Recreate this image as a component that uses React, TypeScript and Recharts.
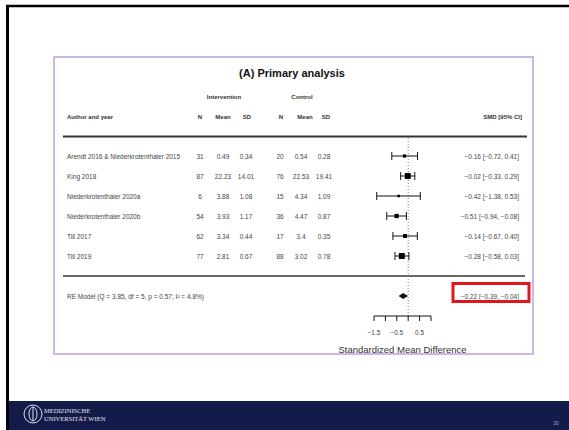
import React from 'react';
import { ComposedChart, Scatter, ErrorBar, XAxis, YAxis, ReferenceLine } from 'recharts';

// study rows (forest plot, primary analysis)
const studies = [
  'Arendt 2016 & Niederkrotenthaler 2015',
  'King 2018',
  'Niederkrotenthaler 2020a',
  'Niederkrotenthaler 2020b',
  'Till 2017',
  'Till 2019',
];
const nInt = [31, 87, 6, 54, 62, 77];
const meanInt = [0.49, 22.23, 3.88, 3.93, 3.34, 2.81];
const sdInt = [0.34, 14.01, 1.08, 1.17, 0.44, 0.67];
const nCtrl = [20, 76, 15, 36, 17, 88];
const meanCtrl = [0.54, 22.53, 4.34, 4.47, 3.4, 3.02];
const sdCtrl = [0.28, 19.41, 1.09, 0.87, 0.35, 0.78];
const smd = [-0.16, -0.02, -0.42, -0.51, -0.14, -0.28];
const ciLow = [-0.72, -0.33, -1.38, -0.94, -0.67, -0.58];
const ciHigh = [0.41, 0.29, 0.53, -0.08, 0.4, 0.03];

// pooled random-effects estimate
const reStats = 'RE Model (Q = 3.85, df = 5, p = 0.57; I\u00B2 = 4.8%)';
const reEstimate = -0.22;
const reLower = -0.39;
const reUpper = -0.04;

const xTicks = [-1.5, -1, -0.5, 0, 0.5, 1];
const xTickLabels = ['\u22121.5', '', '\u22120.5', '', '0.5', ''];
const axisTitle = 'Standardized Mean Difference';

const FONT = '"Liberation Sans", Arial, sans-serif';
const TEXT = '#444';
const COLS = [200, 223, 246, 280, 301, 324];

const minus = (s: string) => s.replace(/-/g, '\u2212');
const ciText = (e: number, l: number, h: number) =>
  minus(`${e.toFixed(2)} [${l.toFixed(2)}, ${h.toFixed(2)}]`);

const maxN = Math.max(...nInt.map((n, i) => n + nCtrl[i]));
const rows = studies.map((name, i) => ({
  name,
  x: smd[i],
  y: i,
  err: [smd[i] - ciLow[i], ciHigh[i] - smd[i]],
  box: 2 + (4 * (nInt[i] + nCtrl[i])) / maxN,
  cells: [nInt[i], meanInt[i], sdInt[i], nCtrl[i], meanCtrl[i], sdCtrl[i]].map(String),
  ci: ciText(smd[i], ciLow[i], ciHigh[i]),
}));

const RE_ROW = studies.length + 1;
const half = 0.12;
const diamond = [
  { x: reLower, y: RE_ROW },
  { x: reEstimate, y: RE_ROW - half },
  { x: reUpper, y: RE_ROW },
  { x: reEstimate, y: RE_ROW + half },
  { x: reLower, y: RE_ROW },
];
const reRow = [{ x: reEstimate, y: RE_ROW }];

function StudyRow(props: any) {
  const { cx, cy, payload } = props;
  const s = payload.box;
  return (
    <g fontFamily={FONT} fontSize={6.5} fill={TEXT}>
      <text x={67} y={cy} dominantBaseline="central">{payload.name}</text>
      {payload.cells.map((c: string, k: number) => (
        <text key={k} x={COLS[k]} y={cy} textAnchor="middle" dominantBaseline="central">{c}</text>
      ))}
      <text x={519} y={cy} textAnchor="end" dominantBaseline="central">{payload.ci}</text>
      <rect x={cx - s / 2} y={cy - s / 2} width={s} height={s} fill="#000" />
    </g>
  );
}

function RERow(props: any) {
  const { cy } = props;
  return (
    <g fontFamily={FONT} fontSize={6.5} fill={TEXT}>
      <text x={67} y={cy} dominantBaseline="central">{reStats}</text>
      <text x={519} y={cy} textAnchor="end" dominantBaseline="central">
        {ciText(reEstimate, reLower, reUpper)}
      </text>
      <rect x={453} y={cy - 12.5} width={76} height={18} fill="none" stroke="#e3151b" strokeWidth={3} />
    </g>
  );
}

function Slide() {
  const hdr = { fontFamily: FONT, fontSize: 6, fontWeight: 700, fill: '#333' } as const;
  return (
    <svg width={569} height={430} style={{ position: 'absolute', left: 0, top: 0 }}>
      <rect width={569} height={430} fill="#fff" />
      <line x1={6} y1={6} x2={569} y2={6} stroke="#000" strokeWidth={2.5} />
      <line x1={7.5} y1={5} x2={7.5} y2={430} stroke="#000" strokeWidth={3} />
      <rect x={54} y={57} width={479} height={297} fill="none" stroke="#cdb6e4" strokeWidth={2} />
      <text x={292} y={73} textAnchor="middle" dominantBaseline="central"
        style={{ fontFamily: FONT, fontSize: 11, fontWeight: 700, fill: '#111' }}>
        (A) Primary analysis
      </text>
      <text x={224} y={97} textAnchor="middle" dominantBaseline="central" style={hdr}>Intervention</text>
      <text x={302} y={97} textAnchor="middle" dominantBaseline="central" style={hdr}>Control</text>
      <text x={67} y={117} dominantBaseline="central" style={hdr}>Author and year</text>
      {['N', 'Mean', 'SD', 'N', 'Mean', 'SD'].map((h, k) => (
        <text key={k} x={[200, 223, 247, 281, 305, 326][k]} y={117} textAnchor="middle"
          dominantBaseline="central" style={hdr}>{h}</text>
      ))}
      <text x={522} y={117} textAnchor="end" dominantBaseline="central" style={hdr}>SMD [95% CI]</text>
      <line x1={63} y1={136.5} x2={527} y2={136.5} stroke="#333" strokeWidth={2} />
      <line x1={63} y1={276} x2={525} y2={276} stroke="#333" strokeWidth={1.3} />
      <rect x={9} y={401} width={560} height={29} fill="#131b4b" />
      <circle cx={33} cy={414} r={9} fill="none" stroke="#dde" strokeWidth={1} />
      <ellipse cx={33} cy={414} rx={4} ry={7} fill="none" stroke="#dde" strokeWidth={1} />
      <line x1={33} y1={407} x2={33} y2={421} stroke="#dde" strokeWidth={1} />
      <text x={44} y={410} dominantBaseline="central"
        style={{ fontFamily: '"Liberation Serif", serif', fontSize: 6.5, fill: '#e8e8f0' }}>MEDIZINISCHE</text>
      <text x={44} y={418} dominantBaseline="central"
        style={{ fontFamily: '"Liberation Serif", serif', fontSize: 6.5, fill: '#e8e8f0' }}>UNIVERSITÄT WIEN</text>
      <text x={556} y={423} textAnchor="middle" dominantBaseline="central"
        style={{ fontFamily: FONT, fontSize: 5, fill: '#aab' }}>20</text>
    </svg>
  );
}

export default function App() {
  return (
    <div style={{ position: 'absolute', left: 0, top: 0, width: 569, height: 430, background: '#fff' }}>
      <Slide />
      <ComposedChart
        width={569}
        height={430}
        margin={{ top: 138, right: 138, bottom: 74, left: 374 }}
        style={{ position: 'absolute', left: 0, top: 0 }}
      >
        <XAxis
          type="number"
          dataKey="x"
          domain={[-1.5, 1]}
          ticks={xTicks}
          interval={0}
          tickFormatter={(v: number) => xTickLabels[xTicks.indexOf(v)] ?? ''}
          height={40}
          tickSize={5}
          tickMargin={9}
          stroke="#111"
          tick={{ fontSize: 6.5, fill: TEXT, fontFamily: FONT }}
          label={{ value: axisTitle, position: 'insideBottom', offset: 3.5, fontSize: 9.5, fill: '#333', fontFamily: FONT }}
        />
        <YAxis type="number" dataKey="y" domain={[-0.9, 8]} reversed hide />
        <ReferenceLine x={0} stroke="#777" strokeDasharray="1 2" />
        <Scatter data={rows} shape={StudyRow} isAnimationActive={false}>
          <ErrorBar dataKey="err" direction="x" width={4} stroke="#111" strokeWidth={1} />
        </Scatter>
        <Scatter
          data={diamond}
          line={{ fill: '#111', stroke: '#111' }}
          lineJointType="linear"
          shape={() => <g />}
          isAnimationActive={false}
        />
        <Scatter data={reRow} shape={RERow} isAnimationActive={false} />
      </ComposedChart>
    </div>
  );
}
